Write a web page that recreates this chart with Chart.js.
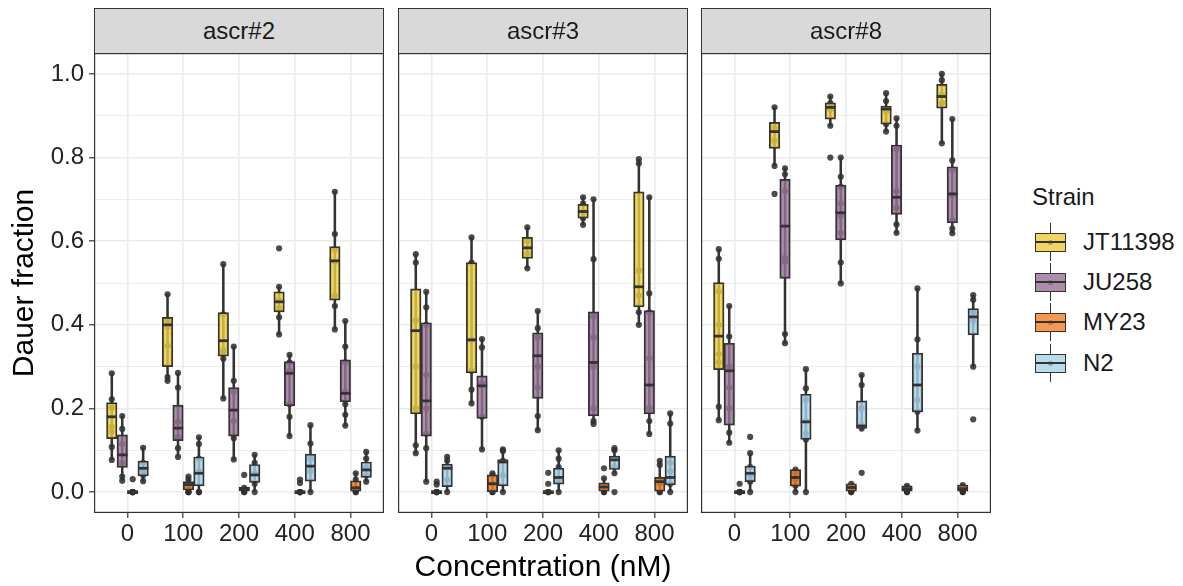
<!DOCTYPE html>
<html>
<head>
<meta charset="utf-8">
<script src="https://cdn.jsdelivr.net/npm/chart.js@4.4.1/dist/chart.umd.min.js"></script>
<style>
  body { margin: 0; background: #fff; width: 1183px; height: 586px; position: relative; overflow: hidden;
         font-family: "Liberation Sans", Arial, sans-serif; }
  canvas { position: absolute; top: 53px; }
  .strip { position: absolute; top: 8px; height: 46px; box-sizing: border-box; background: #D9D9D9;
           border: 1.2px solid #333; color: #1a1a1a; font-size: 24px; line-height: 44px; text-align: center; }
  .lg-title { position: absolute; left: 1032px; top: 183px; font-size: 24px; color: #1a1a1a; }
  .key { position: absolute; left: 1035px; width: 31px; height: 38px; }
  .key .wh { position: absolute; left: 14.5px; top: 0; width: 1.8px; height: 38px; background: #333; }
  .key .bx { position: absolute; left: 0; top: 9.5px; width: 31px; height: 19px; box-sizing: border-box; border: 1.8px solid #333; }
  .key .md { position: absolute; left: 0; top: 17.8px; width: 31px; height: 2.6px; background: #333; }
  .key .dt { position: absolute; left: 13px; top: 16.5px; width: 5px; height: 5px; border-radius: 50%; }
  .lab { position: absolute; left: 1083px; font-size: 24px; color: #1a1a1a; line-height: 28px; }
</style>
</head>
<body>
<canvas id="c0" width="384" height="533" style="left:0px"></canvas>
<canvas id="c1" width="290" height="533" style="left:398px"></canvas>
<canvas id="c2" width="290" height="533" style="left:701px"></canvas>
<div class="strip" style="left:94px;width:290px">ascr#2</div>
<div class="strip" style="left:398px;width:290px">ascr#3</div>
<div class="strip" style="left:701px;width:290px">ascr#8</div>
<div class="lg-title">Strain</div>
<div id="legend"></div>

<script>
// --- données ---
const concentrations = ['0', '100', '200', '400', '800'];
const strains = ['JT11398', 'JU258', 'MY23', 'N2'];
const facets = ['ascr#2', 'ascr#3', 'ascr#8'];
const yTicks = [0, 0.1, 0.2, 0.3, 0.4, 0.5, 0.6, 0.7, 0.8, 0.9, 1.0];

// boxes : [whisker bas, q1, médiane, q3, whisker haut] pour chaque concentration
const ascr2_JT11398 = [[0.077, 0.128, 0.180, 0.214, 0.284], [0.266, 0.300, 0.400, 0.418, 0.473], [0.224, 0.325, 0.362, 0.429, 0.545], [0.377, 0.431, 0.455, 0.479, 0.491], [0.389, 0.459, 0.553, 0.587, 0.718]];
const ascr2_JU258   = [[0.027, 0.059, 0.089, 0.137, 0.182], [0.084, 0.123, 0.153, 0.208, 0.285], [0.078, 0.134, 0.196, 0.250, 0.348], [0.134, 0.206, 0.284, 0.312, 0.328], [0.159, 0.216, 0.236, 0.316, 0.409]];
const ascr2_MY23    = [[0, 0, 0, 0, 0], [0, 0.005, 0.018, 0.025, 0.037], [0, 0.003, 0.008, 0.012, 0.012], [0, 0, 0, 0, 0], [0, 0, 0.010, 0.027, 0.045]];
const ascr2_N2      = [[0.026, 0.039, 0.057, 0.074, 0.106], [0, 0.015, 0.045, 0.084, 0.131], [0, 0.023, 0.041, 0.066, 0.089], [0, 0.026, 0.062, 0.091, 0.160], [0.025, 0.035, 0.053, 0.072, 0.096]];

const ascr3_JT11398 = [[0.093, 0.187, 0.386, 0.486, 0.569], [0.212, 0.285, 0.364, 0.549, 0.609], [0.535, 0.559, 0.584, 0.609, 0.633], [0.639, 0.655, 0.671, 0.688, 0.705], [0.400, 0.443, 0.491, 0.718, 0.796]];
const ascr3_JU258   = [[0.025, 0.134, 0.218, 0.405, 0.479], [0.102, 0.176, 0.254, 0.278, 0.366], [0.148, 0.224, 0.326, 0.381, 0.433], [0.163, 0.182, 0.310, 0.431, 0.700], [0.139, 0.187, 0.256, 0.434, 0.705]];
const ascr3_MY23    = [[0, 0, 0, 0, 0], [0, 0.001, 0.020, 0.041, 0.045], [0, 0, 0, 0, 0], [0, 0, 0.012, 0.022, 0.033], [0, 0, 0.025, 0.035, 0.075]];
const ascr3_N2      = [[0, 0.013, 0.057, 0.067, 0.084], [0, 0.015, 0.072, 0.078, 0.102], [0, 0.019, 0.035, 0.057, 0.100], [0.045, 0.054, 0.077, 0.086, 0.105], [0, 0.017, 0.035, 0.086, 0.188]];

const ascr8_JT11398 = [[0.172, 0.293, 0.373, 0.501, 0.581], [0.780, 0.822, 0.862, 0.884, 0.920], [0.876, 0.892, 0.920, 0.931, 0.946], [0.862, 0.880, 0.916, 0.923, 0.954], [0.834, 0.918, 0.946, 0.975, 1.000]];
const ascr8_JU258   = [[0.118, 0.160, 0.290, 0.356, 0.445], [0.356, 0.511, 0.636, 0.748, 0.774], [0.499, 0.603, 0.668, 0.734, 0.800], [0.620, 0.664, 0.705, 0.830, 0.894], [0.619, 0.644, 0.713, 0.778, 0.892]];
const ascr8_MY23    = [[0, 0, 0, 0, 0], [0, 0.014, 0.035, 0.054, 0.054], [0, 0.002, 0.011, 0.020, 0.020], [0, 0.002, 0.008, 0.015, 0.015], [0, 0.002, 0.008, 0.017, 0.017]];
const ascr8_N2      = [[0, 0.025, 0.045, 0.062, 0.093], [0, 0.126, 0.168, 0.234, 0.294], [0.150, 0.152, 0.158, 0.218, 0.280], [0.147, 0.192, 0.256, 0.332, 0.487], [0.300, 0.376, 0.419, 0.439, 0.471]];

// points individuels (réplicats) pour chaque concentration
const ascr2_JT11398_pts = [[0.284, 0.222, 0.201, 0.156, 0.144, 0.108, 0.077], [0.473, 0.41, 0.395, 0.35, 0.275, 0.266], [0.545, 0.425, 0.34, 0.333, 0.319, 0.224], [0.583, 0.491, 0.46, 0.44, 0.418, 0.377], [0.718, 0.617, 0.58, 0.55, 0.47, 0.445, 0.389]];
const ascr2_JU258_pts   = [[0.182, 0.151, 0.115, 0.07, 0.037, 0.027], [0.285, 0.25, 0.168, 0.132, 0.105, 0.084], [0.348, 0.266, 0.24, 0.17, 0.129, 0.078], [0.328, 0.31, 0.29, 0.21, 0.18, 0.134], [0.409, 0.348, 0.31, 0.24, 0.21, 0.185, 0.159]];
const ascr2_MY23_pts    = [[0.031, 0, 0, 0, 0, 0], [0.037, 0.03, 0.02, 0.01, 0, 0, 0], [0.041, 0.01, 0.005, 0, 0], [0.03, 0.022, 0, 0, 0, 0], [0.045, 0.03, 0.01, 0, 0]];
const ascr2_N2_pts      = [[0.106, 0.07, 0.05, 0.04, 0.026], [0.131, 0.115, 0.08, 0.05, 0, 0], [0.089, 0.07, 0.045, 0.02, 0], [0.16, 0.116, 0.08, 0.05, 0], [0.096, 0.08, 0.06, 0.04, 0.025]];

const ascr3_JT11398_pts = [[0.569, 0.549, 0.41, 0.3, 0.2, 0.112, 0.093], [0.609, 0.549, 0.364, 0.29, 0.245, 0.212], [0.633, 0.6, 0.57, 0.535], [0.705, 0.69, 0.67, 0.655, 0.639], [0.796, 0.786, 0.53, 0.47, 0.43, 0.4]];
const ascr3_JU258_pts   = [[0.479, 0.442, 0.4, 0.28, 0.2, 0.14, 0.105, 0.025], [0.366, 0.346, 0.26, 0.18, 0.102], [0.433, 0.392, 0.37, 0.3, 0.25, 0.182, 0.148], [0.7, 0.557, 0.42, 0.37, 0.3, 0.2, 0.17, 0.163], [0.705, 0.475, 0.43, 0.32, 0.2, 0.17, 0.139]];
const ascr3_MY23_pts    = [[0.025, 0.018, 0, 0, 0, 0], [0.045, 0.04, 0.02, 0, 0], [0.046, 0.02, 0, 0, 0], [0.057, 0.033, 0.015, 0, 0], [0.075, 0.065, 0.03, 0.02, 0, 0]];
const ascr3_N2_pts      = [[0.084, 0.075, 0.06, 0.03, 0], [0.102, 0.098, 0.075, 0.04, 0], [0.1, 0.08, 0.06, 0.03, 0], [0.105, 0.1, 0.08, 0.06, 0.045, 0], [0.188, 0.164, 0.07, 0.05, 0.02, 0]];

const ascr8_JT11398_pts = [[0.581, 0.558, 0.48, 0.4, 0.33, 0.31, 0.204, 0.172], [0.92, 0.87, 0.84, 0.78, 0.713], [0.946, 0.93, 0.915, 0.876, 0.8], [0.954, 0.935, 0.91, 0.88, 0.862], [1.0, 0.985, 0.95, 0.93, 0.834]];
const ascr8_JU258_pts   = [[0.445, 0.372, 0.3, 0.25, 0.2, 0.142, 0.118], [0.774, 0.76, 0.72, 0.56, 0.55, 0.378, 0.356], [0.8, 0.754, 0.73, 0.69, 0.66, 0.62, 0.549, 0.499], [0.894, 0.876, 0.82, 0.72, 0.68, 0.64, 0.62], [0.892, 0.793, 0.77, 0.71, 0.65, 0.63, 0.619]];
const ascr8_MY23_pts    = [[0.02, 0, 0, 0, 0], [0.054, 0.045, 0.03, 0.015, 0], [0.02, 0.012, 0.005, 0, 0], [0.015, 0.01, 0.005, 0, 0], [0.017, 0.012, 0.005, 0, 0]];
const ascr8_N2_pts      = [[0.132, 0.093, 0.06, 0.04, 0.025, 0], [0.294, 0.248, 0.22, 0.17, 0.14, 0.126, 0], [0.28, 0.256, 0.2, 0.16, 0.152, 0.046], [0.487, 0.365, 0.3, 0.22, 0.192, 0.147], [0.471, 0.46, 0.43, 0.41, 0.3, 0.174]];

// --- style ---
const FONT = '"Liberation Sans", Arial, sans-serif';
const fills = ['rgba(238,208,62,0.8)', 'rgba(153,117,151,0.8)', 'rgba(244,126,36,0.8)', 'rgba(166,211,234,0.8)'];
const keyFills = ['#F0D660', '#AC8EAA', '#F69850', '#B8DCEE'];
const DODGE = 0.1875; // largeur d'une case de strain (unités de catégorie)

const boxes = [
    [ascr2_JT11398, ascr2_JU258, ascr2_MY23, ascr2_N2],
    [ascr3_JT11398, ascr3_JU258, ascr3_MY23, ascr3_N2],
    [ascr8_JT11398, ascr8_JU258, ascr8_MY23, ascr8_N2]
];
const points = [
    [ascr2_JT11398_pts, ascr2_JU258_pts, ascr2_MY23_pts, ascr2_N2_pts],
    [ascr3_JT11398_pts, ascr3_JU258_pts, ascr3_MY23_pts, ascr3_N2_pts],
    [ascr8_JT11398_pts, ascr8_JU258_pts, ascr8_MY23_pts, ascr8_N2_pts]
];

Chart.defaults.font.family = FONT;

// cadre du panneau (theme_bw)
const panelBorder = {
    id: 'panelBorder',
    afterDraw(chart) {
        const { ctx, chartArea: a } = chart;
        ctx.save();
        ctx.strokeStyle = '#333';
        ctx.lineWidth = 1.2;
        ctx.strokeRect(a.left + 0.6, a.top + 0.6, a.right - a.left - 1.2, a.bottom - a.top - 1.2);
        ctx.restore();
    }
};

const isMajor = v => Math.round(v * 10) % 2 === 0;

// pas de padding auto : la zone de tracé doit coller au canvas
function noPad(ax) {
    ax.paddingTop = 0; ax.paddingBottom = 0; ax.paddingLeft = 0; ax.paddingRight = 0;
}

function buildDatasets(p) {
    const ds = [];
    strains.forEach((name, s) => {
        const off = (s - 1.5) * DODGE;
        const st = boxes[p][s];
        const pts = points[p][s];
        // points bruts (sous la boîte)
        const raw = [];
        pts.forEach((arr, ci) => arr.forEach(v => raw.push({ x: ci + off, y: v })));
        ds.push({
            label: name + ' pts', data: raw, order: 3,
            pointRadius: 3.1, pointBackgroundColor: 'rgba(45,45,45,0.85)', pointBorderWidth: 0
        });
        // moustaches
        ds.push({
            type: 'bar', label: name + ' whisker', order: 2, grouped: false,
            data: st.map((b, ci) => ({ x: ci + off, y: [b[0], b[4]] })),
            barThickness: 1.9, backgroundColor: '#333', borderWidth: 0
        });
        // boîtes q1-q3
        ds.push({
            type: 'bar', label: name, order: 1, grouped: false,
            data: st.map((b, ci) => ({ x: ci + off, y: [b[1], b[3]] })),
            barThickness: 10.5, minBarLength: 3, backgroundColor: fills[s],
            borderColor: '#333', borderWidth: 1.7, borderSkipped: false
        });
        // médianes
        ds.push({
            label: name + ' median', order: 0,
            data: st.map((b, ci) => ({ x: ci + off, y: b[2] })),
            pointStyle: 'line', pointRadius: 5.2, borderColor: '#333', pointBorderWidth: 2.8, borderWidth: 2.8
        });
    });
    return ds;
}

function makeChart(p) {
    const first = p === 0;
    new Chart(document.getElementById('c' + p), {
        type: 'scatter',
        data: { datasets: buildDatasets(p) },
        options: {
            responsive: false,
            animation: false,
            events: [],
            layout: { padding: 0, autoPadding: false },
            plugins: { legend: { display: false }, tooltip: { enabled: false } },
            scales: {
                x: {
                    type: 'linear', min: -0.6, max: 4.6, offset: false,
                    afterBuildTicks: ax => { ax.ticks = concentrations.map((c, i) => ({ value: i })); },
                    afterFit: ax => { ax.height = 73; noPad(ax); },
                    ticks: { autoSkip: false, maxRotation: 0, padding: 2, color: '#222', font: { size: 24 },
                             callback: v => concentrations[v] },
                    grid: { color: '#EBEBEB', lineWidth: 1.6, tickLength: 5, tickColor: '#333', tickWidth: 1.2, offset: false },
                    border: { display: false },
                    title: { display: p === 1, text: 'Concentration (nM)', color: '#000', font: { size: 30 }, padding: 0 }
                },
                y: {
                    type: 'linear', min: -0.05, max: 1.05,
                    afterBuildTicks: ax => { ax.ticks = yTicks.map(v => ({ value: v })); },
                    afterFit: ax => { ax.width = first ? 94 : 0; noPad(ax); },
                    ticks: { display: first, autoSkip: false, padding: 5, color: '#222', font: { size: 24 },
                             callback: v => isMajor(v) ? v.toFixed(1) : '' },
                    grid: {
                        color: '#EBEBEB',
                        lineWidth: c => (c.tick && isMajor(c.tick.value)) ? 1.6 : 0.9,
                        drawTicks: first, tickLength: 5, tickWidth: 1.2,
                        tickColor: c => (c.tick && isMajor(c.tick.value)) ? '#333' : 'rgba(0,0,0,0)'
                    },
                    border: { display: false },
                    title: { display: first, text: 'Dauer fraction', color: '#000', font: { size: 30 }, padding: { top: 7, bottom: 0 } }
                }
            }
        },
        plugins: [panelBorder]
    });
}

facets.forEach((f, p) => makeChart(p));

// --- légende (HTML) ---
const legend = document.getElementById('legend');
const keyCenters = [242, 282, 322, 363];
strains.forEach((name, s) => {
    const k = document.createElement('div');
    k.className = 'key';
    k.style.top = (keyCenters[s] - 19) + 'px';
    k.innerHTML = `<div class="wh"></div><div class="bx" style="background:${keyFills[s]}"></div>
                   <div class="md"></div><div class="dt" style="background:rgba(60,60,60,0.35)"></div>`;
    legend.appendChild(k);
    const l = document.createElement('div');
    l.className = 'lab';
    l.style.top = (keyCenters[s] - 14) + 'px';
    l.innerText = name;
    legend.appendChild(l);
});
</script>
</body>
</html>
